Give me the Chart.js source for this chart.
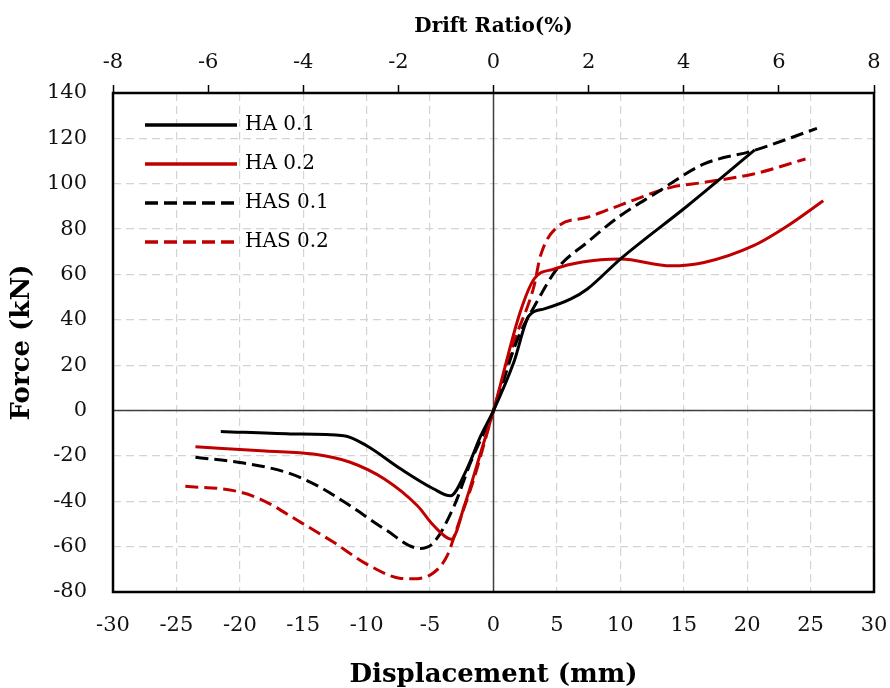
<!DOCTYPE html>
<html>
<head>
<meta charset="utf-8">
<script src="https://cdn.jsdelivr.net/npm/chart.js@4.4.1/dist/chart.umd.min.js"></script>
<style>
  html, body { margin: 0; padding: 0; background: #fff; }
  #wrap { width: 890px; height: 688px; }
</style>
</head>
<body>
<div id="wrap"><canvas id="chart" width="890" height="688"></canvas></div>
<script>
// values (displacement mm / force kN)
const seriesNames = ['HA 0.1', 'HA 0.2', 'HAS 0.1', 'HAS 0.2'];

const haOneX = [-21.5, -16, -11.8, -10.0, -7.3, -4.7, -3.4, -2.1, -1.0, 0, 1.6, 2.8, 4.0, 6.1, 7.4, 10.0, 15.3, 20.6];
const haOneY = [-9.2, -10.3, -11.1, -15.5, -25.8, -34.6, -37.6, -25.8, -11.1, 0, 21.3, 41.8, 44.8, 49.2, 53.6, 66.8, 90.3, 114.9];

const haTwoX = [-23.5, -18, -14.2, -11.3, -8.6, -6.0, -4.7, -3.3, -2.3, -1.0, 0, 2.1, 3.2, 4.8, 7, 10, 14.0, 16.6, 20.5, 23.2, 26.0];
const haTwoY = [-16.0, -17.8, -19.2, -22.8, -30.2, -42, -50.8, -56.7, -42, -18.4, 0, 43.3, 58, 62.4, 65.5, 66.8, 63.8, 65.3, 72.7, 81.5, 92.5];

const hasOneX = [-23.5, -20, -16.3, -13.9, -11.3, -8.6, -5.8, -4.7, -3.1, -1.8, 0, 1.9, 3.4, 5.0, 7.4, 10, 12.7, 16.6, 20.5, 25.5];
const hasOneY = [-20.6, -22.9, -27.3, -33.1, -42, -52.2, -60.8, -58.1, -42, -22.8, 0, 31.5, 47.7, 62.4, 74.2, 85.9, 95.5, 108.7, 114.6, 124.4];

const hasTwoX = [-24.3, -20.5, -18.4, -15.2, -12.6, -10, -7.3, -6.4, -4.7, -3.65, -2.9, -1.55, 0, 1.6, 3.2, 3.7, 5.0, 7.4, 10, 14.0, 16.6, 20.5, 24.6];
const hasTwoY = [-33.4, -35.3, -39, -49.3, -58.1, -67.7, -74, -74.2, -71.4, -64, -52.2, -30.2, 0, 30, 55, 68.2, 80.8, 85.2, 90.6, 98.4, 100.6, 104.3, 110.9];

// axis ticks
const dispTicks = [-30, -25, -20, -15, -10, -5, 0, 5, 10, 15, 20, 25, 30];
const forceTicks = [-80, -60, -40, -20, 0, 20, 40, 60, 80, 100, 120, 140];
const driftTicks = [-8, -6, -4, -2, 0, 2, 4, 6, 8];

const BLACK = '#000000';
const RED = '#c00000';
const serif = "'DejaVu Serif', serif";

function pts(xs, ys) {
  return xs.map((x, i) => ({ x: x, y: ys[i] }));
}

function line(label, xs, ys, color, dash) {
  return {
    label: label,
    data: pts(xs, ys),
    borderColor: color,
    backgroundColor: color,
    borderWidth: 3,
    borderDash: dash,
    pointRadius: 0,
    cubicInterpolationMode: 'monotone',
    fill: false
  };
}

// frame + zero axes
const framePlugin = {
  id: 'frame',
  beforeDatasetsDraw(chart) {
    const { ctx, chartArea: a, scales } = chart;
    const x0 = scales.x.getPixelForValue(0);
    const y0 = scales.y.getPixelForValue(0);
    ctx.save();
    ctx.strokeStyle = '#404040';
    ctx.lineWidth = 1.5;
    ctx.beginPath();
    ctx.moveTo(a.left, y0); ctx.lineTo(a.right, y0);
    ctx.moveTo(x0, a.top); ctx.lineTo(x0, a.bottom);
    ctx.stroke();
    ctx.strokeStyle = '#000';
    ctx.lineWidth = 2.5;
    ctx.strokeRect(a.left, a.top, a.right - a.left, a.bottom - a.top);
    ctx.restore();
  }
};

// legend in the upper left of the plot
const legendPlugin = {
  id: 'innerLegend',
  afterDatasetsDraw(chart) {
    const { ctx, chartArea: a } = chart;
    const x1 = a.left + 32, x2 = a.left + 124;
    ctx.save();
    ctx.font = "20px " + serif;
    ctx.textBaseline = 'middle';
    ctx.textAlign = 'left';
    chart.data.datasets.forEach((ds, i) => {
      const y = a.top + 32 + i * 39;
      ctx.strokeStyle = ds.borderColor;
      ctx.lineWidth = 3.5;
      ctx.setLineDash(ds.borderDash || []);
      ctx.beginPath();
      ctx.moveTo(x1, y); ctx.lineTo(x2, y);
      ctx.stroke();
      ctx.setLineDash([]);
      ctx.fillStyle = '#000';
      ctx.fillText(ds.label, x2 + 8, y);
    });
    ctx.restore();
  }
};

function fitX(h) {
  return s => {
    s.height = h;
    s.paddingLeft = 0;
    s.paddingRight = 0;
  };
}

new Chart(document.getElementById('chart'), {
  type: 'line',
  data: {
    datasets: [
      line(seriesNames[0], haOneX, haOneY, BLACK, []),
      line(seriesNames[1], haTwoX, haTwoY, RED, []),
      line(seriesNames[2], hasOneX, hasOneY, BLACK, [13, 6]),
      line(seriesNames[3], hasTwoX, hasTwoY, RED, [13, 6])
    ]
  },
  options: {
    responsive: false,
    animation: false,
    devicePixelRatio: 1,
    layout: { padding: { left: 0, right: 16, top: 0, bottom: 0 } },
    plugins: {
      legend: { display: false },
      tooltip: { enabled: false }
    },
    scales: {
      x: {
        type: 'linear',
        position: 'bottom',
        min: -30, max: 30,
        afterBuildTicks: s => { s.ticks = dispTicks.map(v => ({ value: v })); },
        afterFit: fitX(96),
        grid: { color: '#d4d4d4', lineWidth: 1.2, drawTicks: false },
        border: { display: false, dash: [8, 5] },
        ticks: { color: '#111', padding: 21, font: { family: serif, size: 21 } },
        title: {
          display: true, text: 'Displacement (mm)', color: '#000',
          font: { family: serif, size: 26, weight: 'bold', lineHeight: 1 },
          padding: { top: 0, bottom: 0 }
        }
      },
      x2: {
        type: 'linear',
        position: 'top',
        min: -8, max: 8,
        afterBuildTicks: s => { s.ticks = driftTicks.map(v => ({ value: v })); },
        afterFit: fitX(93),
        grid: { drawOnChartArea: false, drawTicks: true, tickLength: 8, tickColor: '#000', tickWidth: 1.5 },
        border: { display: false },
        ticks: { color: '#111', padding: 10, font: { family: serif, size: 21 } },
        title: {
          display: true, text: 'Drift Ratio(%)', color: '#000',
          font: { family: serif, size: 20, weight: 'bold', lineHeight: 1.2 },
          padding: { top: 15, bottom: 0 }
        }
      },
      y: {
        type: 'linear',
        position: 'left',
        min: -80, max: 140,
        afterBuildTicks: s => { s.ticks = forceTicks.map(v => ({ value: v })); },
        afterFit: s => { s.width = 113; s.paddingTop = 0; s.paddingBottom = 0; },
        grid: { color: '#d4d4d4', lineWidth: 1.2, drawTicks: false },
        border: { display: false, dash: [8, 5] },
        ticks: { color: '#111', padding: 26, font: { family: serif, size: 21 } },
        title: {
          display: true, text: 'Force (kN)', color: '#000',
          font: { family: serif, size: 26, weight: 'bold', lineHeight: 1 },
          padding: { top: 9, bottom: 0 }
        }
      }
    }
  },
  plugins: [framePlugin, legendPlugin]
});
</script>
</body>
</html>
